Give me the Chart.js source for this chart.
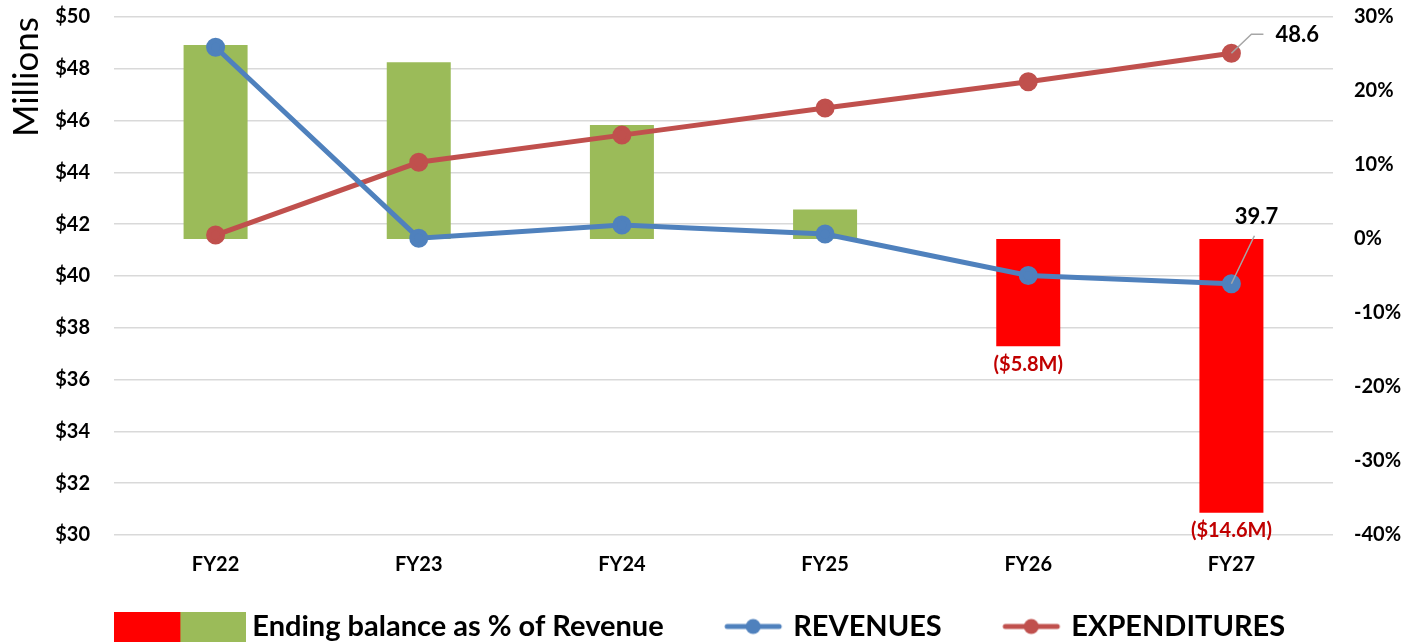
<!DOCTYPE html>
<html>
<head>
<meta charset="utf-8">
<script src="https://cdn.jsdelivr.net/npm/chart.js"></script>
<style>
  html, body { margin: 0; padding: 0; background: #fff; }
  #wrap { width: 1408px; height: 642px; }
</style>
</head>
<body>
<div id="wrap"><canvas id="balanceChart" width="1408" height="642"></canvas></div>
<script>
  const years = ['FY22', 'FY23', 'FY24', 'FY25', 'FY26', 'FY27'];
  const endingPct = [26.2, 23.9, 15.4, 4.0, -14.5, -37.0];    // % of revenue (right axis)
  const endingBalanceM = [null, null, null, null, -5.8, -14.6]; // $M shown under deficit bars
  const revenues = [48.83, 41.46, 41.97, 41.62, 40.02, 39.7];
  const expenditures = [41.58, 44.39, 45.44, 46.49, 47.5, 48.6];
  const leftTicks = [30, 50, 2];   // min, max, step ($M)
  const rightTicks = [-40, 30, 10]; // min, max, step (%)

  const GREEN = '#9bbb59', RED = '#ff0000', BLUE = '#4f81bd', BRICK = '#c0504d';
  const FONT = 'Lato, "Open Sans", sans-serif';

  // legend icons (same canvas width so the text gap lines up)
  function boxIcon() {
    const c = document.createElement('canvas');
    c.width = 132; c.height = 30;
    const g = c.getContext('2d');
    g.fillStyle = RED; g.fillRect(0, 0, 66, 30);
    g.fillStyle = GREEN; g.fillRect(66, 0, 66, 30);
    return c;
  }
  function lineIcon(color) {
    const c = document.createElement('canvas');
    c.width = 132; c.height = 30;
    const g = c.getContext('2d');
    g.strokeStyle = color; g.lineWidth = 5; g.lineCap = 'round';
    g.beginPath(); g.moveTo(72, 15); g.lineTo(124, 15); g.stroke();
    g.fillStyle = color;
    g.beginPath(); g.arc(98, 15, 7.5, 0, Math.PI * 2); g.fill();
    return c;
  }
  const icons = [boxIcon(), lineIcon(BLUE), lineIcon(BRICK)];

  // keep tick padding from eating into the plot height
  function fixY(width) {
    return s => { s.width = width; s.paddingTop = 0; s.paddingBottom = 0; };
  }

  const labelPlugin = {
    id: 'labels',
    afterDatasetsDraw(chart) {
      const ctx = chart.ctx;
      ctx.save();
      // deficit labels under red bars
      const barMeta = chart.getDatasetMeta(0);
      ctx.font = 'bold 20px ' + FONT;
      ctx.fillStyle = '#c00000';
      ctx.textAlign = 'center';
      ctx.textBaseline = 'middle';
      endingBalanceM.forEach((v, i) => {
        if (v === null) return;
        const bar = barMeta.data[i];
        ctx.fillText('($' + Math.abs(v).toFixed(1) + 'M)', bar.x, Math.max(bar.base, bar.y) + 18);
      });
      // last-point labels with leader lines
      ctx.font = 'bold 22px ' + FONT;
      ctx.fillStyle = '#000';
      ctx.strokeStyle = '#a6a6a6';
      ctx.lineWidth = 1.5;
      const last = years.length - 1;
      const e = chart.getDatasetMeta(2).data[last];
      ctx.beginPath();
      ctx.moveTo(e.x, e.y);
      ctx.lineTo(e.x + 20, e.y - 19);
      ctx.lineTo(e.x + 32, e.y - 19);
      ctx.stroke();
      ctx.textAlign = 'left';
      ctx.fillText(expenditures[last].toFixed(1), e.x + 44, e.y - 18);
      const r = chart.getDatasetMeta(1).data[last];
      ctx.beginPath();
      ctx.moveTo(r.x, r.y);
      ctx.lineTo(r.x + 23, r.y - 48);
      ctx.stroke();
      ctx.textAlign = 'center';
      ctx.fillText(revenues[last].toFixed(1), r.x + 25, r.y - 67);
      ctx.restore();
    }
  };

  new Chart(document.getElementById('balanceChart'), {
    data: {
      labels: years,
      datasets: [
        {
          type: 'bar',
          label: 'Ending balance as % of Revenue',
          data: endingPct,
          yAxisID: 'yPct',
          backgroundColor: endingPct.map(v => v < 0 ? RED : GREEN),
          barPercentage: 0.315,
          categoryPercentage: 1,
          order: 2
        },
        {
          type: 'line',
          label: 'REVENUES',
          data: revenues,
          yAxisID: 'yMoney',
          borderColor: BLUE,
          backgroundColor: BLUE,
          borderWidth: 5,
          pointRadius: 7,
          pointHoverRadius: 7,
          tension: 0,
          order: 1
        },
        {
          type: 'line',
          label: 'EXPENDITURES',
          data: expenditures,
          yAxisID: 'yMoney',
          borderColor: BRICK,
          backgroundColor: BRICK,
          borderWidth: 5,
          pointRadius: 7,
          pointHoverRadius: 7,
          tension: 0,
          order: 1
        }
      ]
    },
    options: {
      responsive: false,
      animation: false,
      layout: { padding: { top: 17, left: 0, right: 0, bottom: -9 } },
      scales: {
        x: {
          grid: { display: false },
          border: { display: false },
          ticks: { color: '#000', font: { family: FONT, size: 20, weight: 'bold' }, padding: 10 },
          afterFit: s => { s.height = 77; }
        },
        yMoney: {
          position: 'left',
          min: leftTicks[0], max: leftTicks[1],
          ticks: {
            stepSize: leftTicks[2],
            color: '#000',
            font: { family: FONT, size: 20, weight: 'bold' },
            padding: 24,
            callback: v => '$' + v
          },
          grid: { color: '#d9d9d9', lineWidth: 1.5, drawTicks: false },
          border: { display: false },
          title: {
            display: true,
            text: 'Millions',
            align: 'end',
            color: '#000',
            font: { family: FONT, size: 35 },
            padding: { top: 6, bottom: 0 }
          },
          afterFit: fixY(114)
        },
        yPct: {
          position: 'right',
          min: rightTicks[0], max: rightTicks[1],
          ticks: {
            stepSize: rightTicks[2],
            color: '#000',
            font: { family: FONT, size: 20, weight: 'bold' },
            padding: 13,
            callback: v => v + '%'
          },
          grid: { display: false },
          border: { display: false },
          afterFit: fixY(75)
        }
      },
      plugins: {
        tooltip: { enabled: false },
        legend: {
          position: 'bottom',
          labels: {
            usePointStyle: true,
            pointStyleWidth: 115,
            padding: 0,
            color: '#000',
            font: { family: FONT, size: 29, weight: 'bold' },
            generateLabels: chart => chart.data.datasets.map((d, i) => ({
              text: d.label,
              pointStyle: icons[i],
              datasetIndex: i,
              hidden: false,
              fontColor: '#000',
              lineWidth: 0
            }))
          }
        }
      }
    },
    plugins: [labelPlugin]
  });
</script>
</body>
</html>
